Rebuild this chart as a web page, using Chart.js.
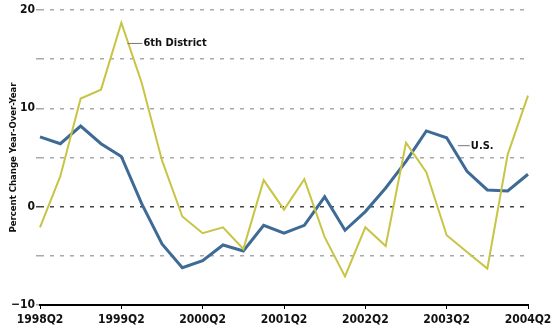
<!DOCTYPE html>
<html>
<head>
<meta charset="utf-8">
<script src="https://cdn.jsdelivr.net/npm/chart.js@4/dist/chart.umd.min.js"></script>
<style>
  html, body { margin: 0; padding: 0; background: #fff; }
  #wrap { width: 552px; height: 333px; }
</style>
</head>
<body>
<div id="wrap"><canvas id="grafico"></canvas></div>
<script>
// quarters 1998Q2 .. 2004Q2
const trimestres = [
  '1998Q2','1998Q3','1998Q4','1999Q1','1999Q2','1999Q3','1999Q4','2000Q1',
  '2000Q2','2000Q3','2000Q4','2001Q1','2001Q2','2001Q3','2001Q4','2002Q1',
  '2002Q2','2002Q3','2002Q4','2003Q1','2003Q2','2003Q3','2003Q4','2004Q1','2004Q2'
];
const sextoDistrito = [
  -2.1, 3.1, 11.0, 11.9, 18.7, 12.6, 4.7, -1.0,
  -2.7, -2.1, -4.3, 2.7, -0.3, 2.8, -3.1, -7.1,
  -2.1, -4.0, 6.5, 3.5, -2.9, -4.6, -6.3, 5.3, 11.3
];
const estadosUnidos = [
  7.1, 6.4, 8.2, 6.4, 5.1, 0.3, -3.8, -6.2,
  -5.5, -3.9, -4.5, -1.9, -2.7, -1.9, 1.0, -2.4,
  -0.5, 1.9, 4.6, 7.7, 7.0, 3.6, 1.7, 1.6, 3.3
];
const ticksY = [-10, 0, 10, 20];

const FONTE = "'DejaVu Sans Condensed', 'DejaVu Sans', sans-serif";

// series labels with short leader lines, anchored to (index, value)
const rotulos = [
  { texto: '6th District', i: 4.3, v: 16.6, linha: 15 },
  { texto: 'U.S.', i: 20.55, v: 6.2, linha: 12 }
];

const pluginRotulos = {
  id: 'rotulos',
  afterDatasetsDraw(chart) {
    const { ctx, scales: { x, y } } = chart;
    ctx.save();
    ctx.font = 'bold 11px ' + FONTE;
    ctx.textBaseline = 'middle';
    rotulos.forEach(r => {
      const x0 = x.left + (x.right - x.left) * r.i / (trimestres.length - 1);
      const y0 = y.getPixelForValue(r.v);
      ctx.strokeStyle = '#777';
      ctx.lineWidth = 1;
      ctx.beginPath();
      ctx.moveTo(x0, y0);
      ctx.lineTo(x0 + r.linha, y0);
      ctx.stroke();
      ctx.fillStyle = '#111';
      ctx.fillText(r.texto, x0 + r.linha + 1, y0);
    });
    ctx.restore();
  }
};

new Chart(document.getElementById('grafico'), {
  type: 'line',
  data: {
    labels: trimestres,
    datasets: [
      {
        label: '6th District',
        data: sextoDistrito,
        borderColor: '#c8c444',
        borderWidth: 2,
        pointRadius: 0,
        tension: 0
      },
      {
        label: 'U.S.',
        data: estadosUnidos,
        borderColor: '#3e6b95',
        borderWidth: 3,
        pointRadius: 0,
        tension: 0
      }
    ]
  },
  options: {
    responsive: true,
    maintainAspectRatio: false,
    animation: false,
    layout: { padding: { left: 0, right: 24, top: 10, bottom: 0 } },
    plugins: { legend: { display: false }, tooltip: { enabled: false } },
    scales: {
      x: {
        offset: false,
        border: { display: true, color: '#000', width: 2 },
        grid: {
          drawOnChartArea: false,
          drawTicks: true,
          tickLength: 4,
          color: c => (c.index % 4 === 0 ? '#000' : 'rgba(0,0,0,0)')
        },
        ticks: {
          autoSkip: false,
          maxRotation: 0,
          padding: 4,
          color: '#111',
          font: { family: FONTE, size: 12, weight: 'bold' },
          callback: (v, i) => (i % 4 === 0 ? trimestres[i] : '')
        },
        afterFit: s => { s.height = 28; s.paddingLeft = 0; s.paddingRight = 0; }
      },
      y: {
        min: -10,
        max: 20,
        border: { display: false, dash: [4, 6] },
        grid: {
          color: c => (c.tick.value === 0 ? '#444' : '#a8a8a8'),
          lineWidth: 1.5,
          tickLength: 4
        },
        ticks: {
          stepSize: 5,
          padding: 1,
          color: '#111',
          font: { family: FONTE, size: 12, weight: 'bold' },
          callback: v => (ticksY.includes(v) ? (v < 0 ? '\u2212' + Math.abs(v) : v) : '')
        },
        title: {
          display: true,
          text: 'Percent Change Year-Over-Year',
          color: '#111',
          padding: { top: 8, bottom: 0 },
          font: { family: FONTE, size: 9.5, weight: 'bold' }
        },
        afterFit: s => { s.width = 40; s.paddingTop = 0; s.paddingBottom = 0; }
      }
    }
  },
  plugins: [pluginRotulos]
});
</script>
</body>
</html>
